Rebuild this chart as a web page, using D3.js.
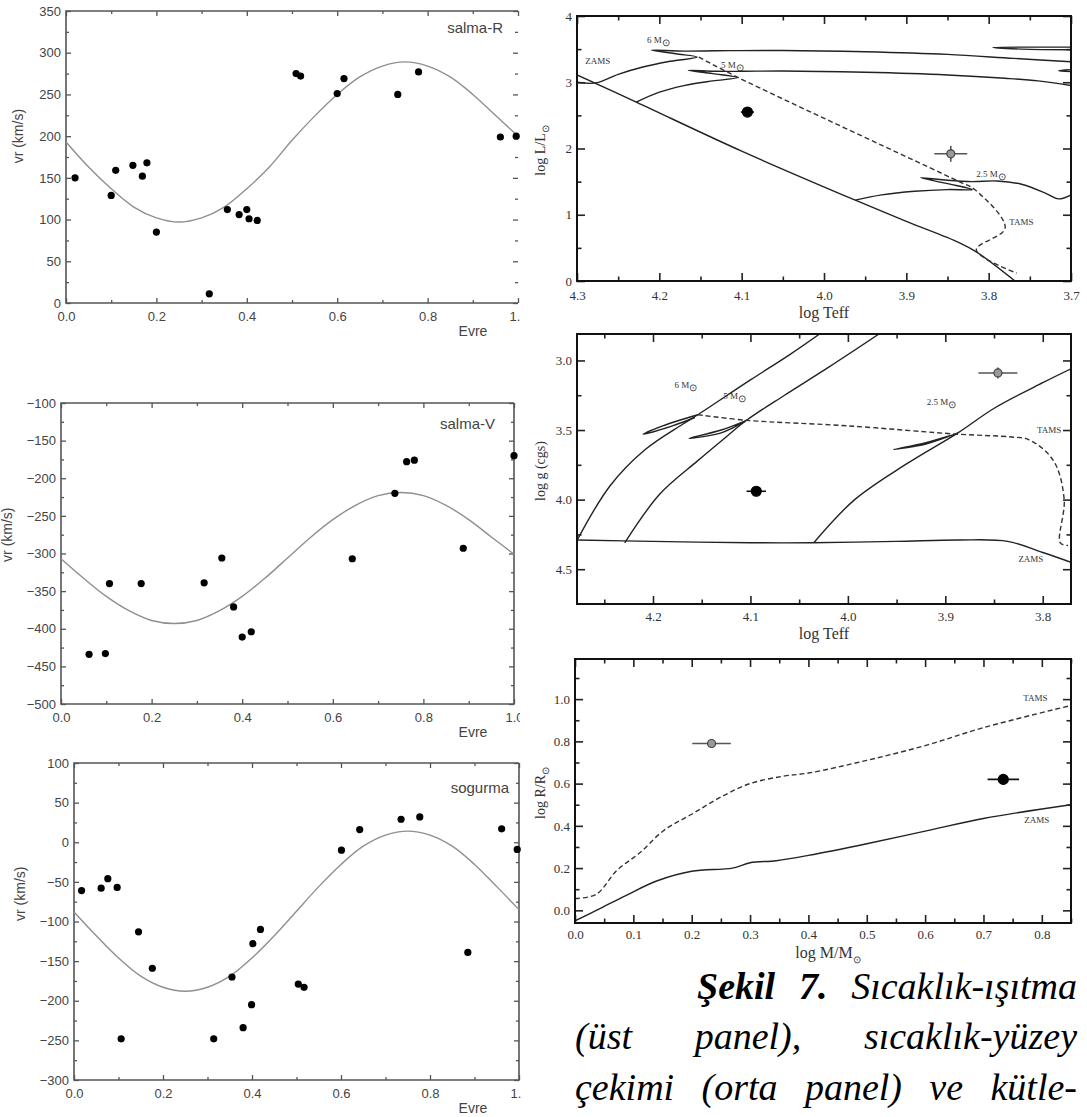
<!DOCTYPE html>
<html>
<head>
<meta charset="utf-8">
<script src="https://cdn.jsdelivr.net/npm/d3@7"></script>
<style>
  body { margin: 0; background: #fff; }
  svg { display: block; }
</style>
</head>
<body>
<script>
// ---------- radial velocity panels (left) ----------
var fitPhase = [0, 0.05, 0.1, 0.15, 0.2, 0.25, 0.3, 0.35, 0.4, 0.45, 0.5,
                0.55, 0.6, 0.65, 0.7, 0.75, 0.8, 0.85, 0.9, 0.95, 1.0];

var phaseR = [0.02, 0.10, 0.11, 0.148, 0.169, 0.179, 0.20, 0.317, 0.357, 0.383, 0.40,
              0.405, 0.423, 0.509, 0.519, 0.60, 0.615, 0.734, 0.78, 0.961, 0.996];
var vrR    = [150, 129, 159, 165, 152, 168, 85, 11, 112, 106, 112,
              101, 99, 275, 272, 251, 269, 250, 277, 199, 200];
var fitR   = [193, 163, 137, 115, 102, 97, 102, 115, 137, 163, 195,
              224, 250, 271, 284, 289, 284, 271, 250, 225, 200];

var phaseV = [0.062, 0.098, 0.107, 0.177, 0.316, 0.355, 0.381, 0.40, 0.42,
              0.643, 0.737, 0.763, 0.78, 0.888, 1.0];
var vrV    = [-434, -433, -340, -340, -339, -306, -371, -411, -404,
              -307, -220, -178, -176, -293, -170];
var fitV   = [-307, -333, -357, -376, -389, -393, -389, -376, -357, -333, -306,
              -279, -255, -236, -223, -219, -223, -236, -255, -278, -301];

var phaseS = [0.017, 0.061, 0.076, 0.097, 0.106, 0.145, 0.176, 0.314, 0.355, 0.38, 0.399,
              0.402, 0.419, 0.504, 0.517, 0.601, 0.642, 0.735, 0.777, 0.885, 0.961, 0.996];
var vrS    = [-61, -58, -46, -57, -248, -113, -159, -248, -170, -234, -205,
              -128, -110, -179, -183, -10, 16, 29, 32, -139, 17, -9];
var fitS   = [-88, -118, -146, -169, -183, -188, -183, -169, -146, -118, -87,
              -56, -28, -5, 9, 14, 9, -5, -28, -56, -85];

var phaseTicks = [0, 0.2, 0.4, 0.6, 0.8, 1.0];
var phaseMinor = [0.1, 0.3, 0.5, 0.7, 0.9];

// ---------- evolution panels (right) ----------
// log Teff - log L
var zamsL   = [[4.30, 3.11], [4.228, 2.70], [4.10, 1.96], [3.962, 1.22], [3.90, 0.90],
               [3.836, 0.58], [3.815, 0.44], [3.768, 0.0]];
var track6L = [[4.30, 3.00], [4.277, 2.99], [4.25, 3.12], [4.22, 3.23], [4.19, 3.31], [4.154, 3.38],
               [4.18, 3.43], [4.21, 3.485], [4.17, 3.47], [4.13, 3.475], [4.05, 3.48],
               [3.95, 3.46], [3.85, 3.42], [3.77, 3.36], [3.70, 3.31]];
var loop6L  = [[3.70, 3.49], [3.76, 3.50], [3.795, 3.525], [3.75, 3.53], [3.70, 3.53]];
var track5L = [[4.228, 2.70], [4.20, 2.85], [4.17, 2.95], [4.135, 3.02], [4.105, 3.07],
               [4.135, 3.13], [4.165, 3.18], [4.13, 3.165], [4.10, 3.165], [4.05, 3.17],
               [3.95, 3.15], [3.85, 3.11], [3.78, 3.06], [3.74, 3.02], [3.70, 2.95]];
var loop5L  = [[3.70, 3.16], [3.715, 3.175], [3.70, 3.19]];
var track25L = [[3.962, 1.22], [3.93, 1.30], [3.89, 1.355], [3.85, 1.38], [3.82, 1.38],
                [3.85, 1.47], [3.883, 1.56], [3.85, 1.52], [3.82, 1.50], [3.79, 1.51],
                [3.76, 1.46], [3.73, 1.32], [3.715, 1.24], [3.70, 1.30]];
var tamsL   = [[4.152, 3.38], [4.104, 3.07], [3.836, 1.50], [3.817, 1.38], [3.78, 0.80],
               [3.815, 0.47], [3.766, 0.12]];
var starsL  = [{t: 4.093, v: 2.55, et: 0.008, ev: 0.04, filled: true},
               {t: 3.846, v: 1.92, et: 0.02, ev: 0.12, filled: false}];

// log Teff - log g
var zamsG   = [[4.278, 4.29], [4.20, 4.30], [4.10, 4.31], [4.037, 4.31], [3.95, 4.30],
               [3.886, 4.29], [3.836, 4.30], [3.80, 4.38], [3.771, 4.45]];
var track6G = [[4.277, 4.28], [4.244, 3.90], [4.208, 3.64], [4.17, 3.46], [4.154, 3.39],
               [4.10, 3.14], [4.06, 2.96], [4.029, 2.81]];
var hook6G  = [[4.154, 3.39], [4.19, 3.47], [4.21, 3.53], [4.18, 3.47], [4.157, 3.41]];
var track5G = [[4.229, 4.31], [4.193, 3.96], [4.154, 3.72], [4.125, 3.55], [4.104, 3.43],
               [4.065, 3.25], [4.02, 3.05], [3.968, 2.81]];
var hook5G  = [[4.104, 3.43], [4.13, 3.50], [4.163, 3.56], [4.13, 3.52], [4.106, 3.44]];
var track25G = [[4.035, 4.31], [3.993, 4.0], [3.939, 3.74], [3.887, 3.52], [3.849, 3.34],
                [3.80, 3.16], [3.771, 3.06]];
var hook25G = [[3.887, 3.52], [3.92, 3.60], [3.953, 3.64], [3.92, 3.59], [3.89, 3.53]];
var tamsG   = [[4.154, 3.39], [4.104, 3.43], [4.0, 3.47], [3.887, 3.53], [3.832, 3.55],
               [3.814, 3.57], [3.789, 3.72], [3.778, 4.0], [3.782, 4.31], [3.774, 4.33]];
var starsG  = [{t: 4.094, v: 3.94, et: 0.01, ev: 0, filled: true},
               {t: 3.846, v: 3.09, et: 0.02, ev: 0.04, filled: false}];

// log M - log R
var zamsR = [[0, -0.05], [0.039, 0.003], [0.087, 0.07], [0.141, 0.14], [0.2, 0.185], [0.27, 0.20],
             [0.30, 0.225], [0.345, 0.235], [0.40, 0.26], [0.5, 0.315], [0.6, 0.375],
             [0.7, 0.435], [0.85, 0.50]];
var tamsR = [[0, 0.056], [0.036, 0.075], [0.072, 0.19], [0.11, 0.27], [0.153, 0.38], [0.2, 0.455],
             [0.249, 0.535], [0.3, 0.60], [0.357, 0.635], [0.4, 0.65], [0.5, 0.71],
             [0.6, 0.78], [0.7, 0.865], [0.85, 0.97]];
var starsR = [{t: 0.234, v: 0.79, et: 0.033, ev: 0, filled: false},
              {t: 0.734, v: 0.62, et: 0.027, ev: 0, filled: true}];

var captionLines = [
  [{t: "Şekil", b: true}, {t: "7.", b: true}, {t: "Sıcaklık-ışıtma"}],
  [{t: "(üst"}, {t: "panel),"}, {t: "sıcaklık-yüzey"}],
  [{t: "çekimi"}, {t: "(orta"}, {t: "panel)"}, {t: "ve"}, {t: "kütle-"}]
];

var W = 1087, H = 1117;
var sans = "Liberation Sans, Arial, sans-serif";
var serif = "Liberation Serif, 'Times New Roman', serif";

var svg = d3.select("body").append("svg").attr("width", W).attr("height", H);
svg.append("rect").attr("width", W).attr("height", H).attr("fill", "#fff");

function range(a, b, s) {
  var out = [];
  for (var v = a; v <= b + s / 1000; v += s) out.push(+v.toFixed(4));
  return out;
}

// inward ticks on all four sides, labels only bottom and left
function ticks4(g, x, y, o) {
  var xr = x.range(), yr = y.range();
  var bottom = yr[0], top = yr[1], left = xr[0], right = xr[1];
  var sides = [
    {axis: d3.axisBottom, pos: "translate(0," + bottom + ")", s: x, maj: o.xMaj, min: o.xMin, fmt: o.xFmt, pad: o.xPad},
    {axis: d3.axisTop, pos: "translate(0," + top + ")", s: x, maj: o.xMaj, min: o.xMin, fmt: null, pad: 3},
    {axis: d3.axisLeft, pos: "translate(" + left + ",0)", s: y, maj: o.yMaj, min: o.yMin, fmt: o.yFmt, pad: o.yPad},
    {axis: d3.axisRight, pos: "translate(" + right + ",0)", s: y, maj: o.yMaj, min: o.yMin, fmt: null, pad: 3}
  ];
  sides.forEach(function(sd) {
    var a = sd.axis(sd.s).tickValues(sd.maj).tickSizeInner(-o.majLen).tickSizeOuter(0)
      .tickPadding(sd.pad).tickFormat(sd.fmt || function() { return ""; });
    var ga = g.append("g").attr("transform", sd.pos).call(a);
    var b = sd.axis(sd.s).tickValues(sd.min).tickSizeInner(-o.minLen).tickSizeOuter(0)
      .tickFormat(function() { return ""; });
    var gb = g.append("g").attr("transform", sd.pos).call(b);
    [ga, gb].forEach(function(q) {
      q.select(".domain").remove();
      q.selectAll("line").attr("stroke", o.color).attr("stroke-width", o.tickW);
      q.selectAll("text").attr("fill", o.textColor).style("font-family", o.font)
        .style("font-size", o.fontSize + "px");
    });
  });
}

// ---------- left: radial velocity curves ----------
function rvPanel(cfg) {
  var x = d3.scaleLinear().domain([0, 1]).range([cfg.left, cfg.right]);
  var y = d3.scaleLinear().domain(cfg.yDomain).range([cfg.bottom, cfg.top]);
  var clipId = "clip" + cfg.id;
  svg.append("clipPath").attr("id", clipId).append("rect")
    .attr("x", 0).attr("y", cfg.top - 15).attr("width", cfg.clipRight).attr("height", 400);
  var g = svg.append("g").attr("clip-path", "url(#" + clipId + ")");

  ticks4(g, x, y, {
    xMaj: phaseTicks, xMin: phaseMinor, xFmt: d3.format(".1f"), xPad: 9,
    yMaj: range(cfg.yDomain[0], cfg.yDomain[1], 50),
    yMin: range(cfg.yDomain[0] + 25, cfg.yDomain[1], 50), yFmt: d3.format("d"), yPad: 5,
    majLen: 5, minLen: 3, color: "#555", tickW: 1.3,
    textColor: "#444", font: sans, fontSize: 13
  });

  var d = "M" + cfg.right + "," + cfg.top + "H" + cfg.left + "V" + cfg.bottom + "H" + cfg.right;
  if (cfg.rightFrame) d += "V" + cfg.top;
  g.append("path").attr("d", d).attr("fill", "none").attr("stroke", "#555").attr("stroke-width", 1.6);

  var line = d3.line().x(function(d, i) { return x(fitPhase[i]); })
    .y(function(d) { return y(d); }).curve(d3.curveCatmullRom);
  g.append("path").datum(cfg.fit).attr("d", line)
    .attr("fill", "none").attr("stroke", "#8f8f8f").attr("stroke-width", 1.4);

  g.selectAll(".pt").data(cfg.phase).enter().append("circle")
    .attr("cx", function(d) { return x(d); })
    .attr("cy", function(d, i) { return y(cfg.vr[i]); })
    .attr("r", 3.6).attr("fill", "#000");

  svg.append("text").attr("x", cfg.right - cfg.labelDx).attr("y", cfg.top + cfg.labelDy)
    .attr("text-anchor", "end").attr("fill", "#444")
    .style("font-family", sans).style("font-size", "15px")
    .text(cfg.label);
  svg.append("text").attr("x", 473).attr("y", cfg.bottom + 33)
    .attr("text-anchor", "middle").attr("fill", "#444")
    .style("font-family", sans).style("font-size", "14px")
    .text("Evre");
  svg.append("text")
    .attr("transform", "translate(" + cfg.ylabX + "," + y(cfg.ylabAt) + ") rotate(-90)")
    .attr("text-anchor", "middle").attr("fill", "#444")
    .style("font-family", sans).style("font-size", "14px")
    .text("vr (km/s)");
}

rvPanel({id: 1, left: 66, right: 518, top: 11, bottom: 303, clipRight: 520, rightFrame: false,
  yDomain: [0, 350], phase: phaseR, vr: vrR, fit: fitR, label: "salma-R", labelDx: 15, labelDy: 22,
  ylabX: 23, ylabAt: 200});
rvPanel({id: 2, left: 61, right: 514, top: 403, bottom: 704, clipRight: 520, rightFrame: true,
  yDomain: [-500, -100], phase: phaseV, vr: vrV, fit: fitV, label: "salma-V", labelDx: 19, labelDy: 26,
  ylabX: 12, ylabAt: -275});
rvPanel({id: 3, left: 74, right: 519, top: 763, bottom: 1080, clipRight: 521, rightFrame: true,
  yDomain: [-300, 100], phase: phaseS, vr: vrS, fit: fitS, label: "sogurma", labelDx: 10, labelDy: 30,
  ylabX: 25, ylabAt: -65});

// ---------- right: evolution diagrams ----------
function evoAxes(g, x, y, cfg) {
  var o = {majLen: 8, minLen: 4.5, color: "#222", tickW: 1.6, textColor: "#333", font: serif, fontSize: 13};
  function side(axisFn, scale, pos, vals, len, fmt, pad) {
    var a = axisFn(scale).tickValues(vals).tickSizeInner(-len).tickSizeOuter(0)
      .tickPadding(pad).tickFormat(fmt || function() { return ""; });
    var q = g.append("g").attr("transform", pos).call(a);
    q.select(".domain").remove();
    q.selectAll("line").attr("stroke", o.color).attr("stroke-width", o.tickW);
    q.selectAll("text").attr("fill", o.textColor).style("font-family", o.font)
      .style("font-size", o.fontSize + "px");
  }
  var b = "translate(0," + cfg.bottom + ")", t = "translate(0," + cfg.top + ")";
  var l = "translate(" + cfg.left + ",0)", r = "translate(" + cfg.right + ",0)";
  side(d3.axisBottom, x, b, cfg.xMaj, o.majLen, cfg.xFmt, cfg.xPad);
  side(d3.axisBottom, x, b, cfg.xMin, o.minLen, null, 6);
  side(d3.axisTop, x, t, cfg.xMaj, o.majLen, null, 6);
  side(d3.axisTop, x, t, cfg.xMin, o.minLen, null, 6);
  side(d3.axisLeft, y, l, cfg.yMaj, o.majLen, cfg.yFmt, 5);
  side(d3.axisLeft, y, l, cfg.yMin, o.minLen, null, 5);
  side(d3.axisRight, y, r, cfg.yMaj, o.majLen, null, 5);
  side(d3.axisRight, y, r, cfg.yMin, o.minLen, null, 5);
  g.append("rect").attr("x", cfg.left).attr("y", cfg.top).attr("width", cfg.right - cfg.left)
    .attr("height", cfg.bottom - cfg.top).attr("fill", "none").attr("stroke", "#111").attr("stroke-width", 2);
}

function evo(cfg) {
  var x = d3.scaleLinear().domain(cfg.xDomain).range([cfg.left, cfg.right]);
  var y = d3.scaleLinear().domain(cfg.yDomain).range([cfg.bottom, cfg.top]);
  var g = svg.append("g");
  var clipId = "eclip" + cfg.id;
  svg.append("clipPath").attr("id", clipId).append("rect")
    .attr("x", cfg.left).attr("y", cfg.top).attr("width", cfg.right - cfg.left)
    .attr("height", cfg.bottom - cfg.top);
  var plot = g.append("g").attr("clip-path", "url(#" + clipId + ")");
  var line = d3.line().x(function(d) { return x(d[0]); }).y(function(d) { return y(d[1]); })
    .curve(d3.curveCatmullRom.alpha(0.5));
  cfg.solid.forEach(function(tr) {
    plot.append("path").datum(tr).attr("d", line).attr("fill", "none")
      .attr("stroke", "#222").attr("stroke-width", 1.4);
  });
  cfg.dashed.forEach(function(tr) {
    plot.append("path").datum(tr).attr("d", line).attr("fill", "none")
      .attr("stroke", "#333").attr("stroke-width", 1.4).attr("stroke-dasharray", "5,3");
  });
  cfg.stars.forEach(function(s) {
    var sg = plot.append("g");
    var c = s.filled ? "#111" : "#555";
    sg.append("line").attr("x1", x(s.t - s.et)).attr("x2", x(s.t + s.et))
      .attr("y1", y(s.v)).attr("y2", y(s.v)).attr("stroke", c).attr("stroke-width", 1.6);
    if (s.ev) sg.append("line").attr("x1", x(s.t)).attr("x2", x(s.t))
      .attr("y1", y(s.v - s.ev)).attr("y2", y(s.v + s.ev)).attr("stroke", c).attr("stroke-width", 1.6);
    sg.append("circle").attr("cx", x(s.t)).attr("cy", y(s.v)).attr("r", s.filled ? 5 : 4)
      .attr("fill", s.filled ? "#000" : "#999").attr("stroke", s.filled ? "#000" : "#444").attr("stroke-width", 1.2);
  });
  cfg.notes.forEach(function(n) {
    var t = plot.append("text").attr("x", x(n.t)).attr("y", y(n.v)).attr("fill", "#333")
      .style("font-family", serif).style("font-size", "9px").text(n.txt);
    if (n.sun) t.append("tspan").attr("dy", 3).style("font-size", "10px").text("⊙");
  });
  evoAxes(g, x, y, cfg);
  var xt = svg.append("text").attr("x", (cfg.left + cfg.right) / 2 + cfg.xtDx).attr("y", cfg.bottom + cfg.xtDy)
    .attr("text-anchor", "middle").attr("fill", "#333")
    .style("font-family", serif).style("font-size", "16px").text(cfg.xTitle);
  if (cfg.xSun) xt.append("tspan").attr("dy", 5).style("font-size", "10px").text("⊙");
  var yt = svg.append("text")
    .attr("transform", "translate(545," + ((cfg.top + cfg.bottom) / 2 + 2) + ") rotate(-90)")
    .attr("text-anchor", "middle").attr("fill", "#333")
    .style("font-family", serif).style("font-size", "14px").text(cfg.yTitle);
  if (cfg.ySun) yt.append("tspan").attr("dy", 4).style("font-size", "10px").text("⊙");
}

evo({id: 1, left: 577, right: 1071, top: 16, bottom: 281, xDomain: [4.3, 3.7], yDomain: [0, 4],
  xMaj: range(3.7, 4.3, 0.1), xMin: range(3.75, 4.25, 0.1), xFmt: d3.format(".1f"), xPad: 10,
  yMaj: [0, 1, 2, 3, 4], yMin: [0.5, 1.5, 2.5, 3.5], yFmt: d3.format("d"),
  solid: [zamsL, track6L, loop6L, track5L, loop5L, track25L], dashed: [tamsL], stars: starsL,
  notes: [{t: 4.29, v: 3.28, txt: "ZAMS"}, {t: 4.215, v: 3.6, txt: "6 M", sun: true},
          {t: 4.125, v: 3.22, txt: "5 M", sun: true}, {t: 3.815, v: 1.57, txt: "2.5 M", sun: true},
          {t: 3.775, v: 0.84, txt: "TAMS"}],
  xTitle: "log Teff", xtDx: 0, xtDy: 37, yTitle: "log L/L", ySun: true});

evo({id: 2, left: 577, right: 1071, top: 334, bottom: 604, xDomain: [4.278, 3.771], yDomain: [4.75, 2.81],
  xMaj: [4.2, 4.1, 4.0, 3.9, 3.8], xMin: [4.25, 4.15, 4.05, 3.95, 3.85], xFmt: d3.format(".1f"), xPad: 8,
  yMaj: [3.0, 3.5, 4.0, 4.5], yMin: [3.25, 3.75, 4.25], yFmt: d3.format(".1f"),
  solid: [zamsG, track6G, hook6G, track5G, hook5G, track25G, hook25G], dashed: [tamsG], stars: starsG,
  notes: [{t: 4.178, v: 3.2, txt: "6 M", sun: true}, {t: 4.128, v: 3.28, txt: "5 M", sun: true},
          {t: 3.919, v: 3.32, txt: "2.5 M", sun: true}, {t: 3.806, v: 3.52, txt: "TAMS"},
          {t: 3.825, v: 4.45, txt: "ZAMS"}],
  xTitle: "log Teff", xtDx: 0, xtDy: 35, yTitle: "log g (cgs)", ySun: false});

evo({id: 3, left: 575, right: 1071, top: 659, bottom: 923, xDomain: [0, 0.85], yDomain: [-0.06, 1.19],
  xMaj: range(0, 0.8, 0.1), xMin: range(0.05, 0.85, 0.1), xFmt: d3.format(".1f"), xPad: 7,
  yMaj: range(0, 1.0, 0.2), yMin: [0.1, 0.3, 0.5, 0.7, 0.9, 1.1], yFmt: d3.format(".1f"),
  solid: [zamsR], dashed: [tamsR], stars: starsR,
  notes: [{t: 0.768, v: 0.99, txt: "TAMS"}, {t: 0.77, v: 0.415, txt: "ZAMS"}],
  xTitle: "log M/M", xtDx: 5, xtDy: 35, xSun: true, yTitle: "log R/R", ySun: true});

// ---------- caption (justified) ----------
function justify(words, x0, x1, base) {
  var nodes = words.map(function(w) {
    return svg.append("text").attr("y", base).attr("fill", "#000")
      .style("font-family", serif).style("font-style", "italic")
      .style("font-weight", w.b ? "bold" : "normal").style("font-size", "38px").text(w.t);
  });
  var widths = nodes.map(function(n) { return n.node().getComputedTextLength(); });
  var gap = (x1 - x0 - d3.sum(widths)) / (nodes.length - 1);
  var cx = x0;
  nodes.forEach(function(n, i) { n.attr("x", cx); cx += widths[i] + gap; });
}
justify(captionLines[0], 697, 1077, 999);
justify(captionLines[1], 575, 1077, 1049);
justify(captionLines[2], 575, 1077, 1100);
</script>
</body>
</html>
